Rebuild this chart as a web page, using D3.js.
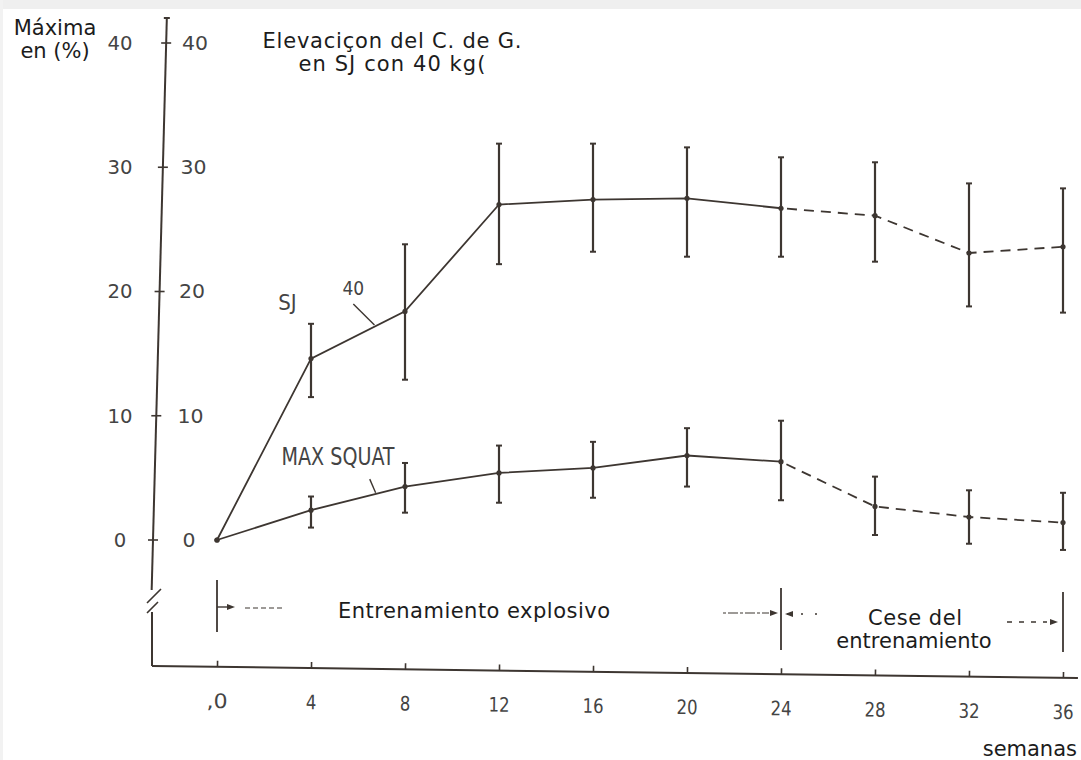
<!DOCTYPE html>
<html>
<head>
<meta charset="utf-8">
<script src="https://cdn.jsdelivr.net/npm/d3@7"></script>
<style>
  body { margin: 0; background: #ffffff; }
  svg { display: block; }
  .typed { font-family: "DejaVu Sans", Verdana, sans-serif; font-size: 21px; fill: #1c1c1c; }
  .hand { font-family: "DejaVu Sans Condensed", "Liberation Sans Narrow", "DejaVu Sans", sans-serif; font-stretch: condensed; fill: #444; }
</style>
</head>
<body>
<div id="chart"></div>
<script>
// weeks of the study
const weeks = [0, 4, 8, 12, 16, 20, 24, 28, 32, 36];

// SJ con 40 kg, elevation in % of baseline
const sjMean = [0, 14.6, 18.4, 27.0, 27.4, 27.5, 26.7, 26.1, 23.1, 23.6];
const sjHigh = [null, 17.4, 23.8, 31.9, 31.9, 31.6, 30.8, 30.4, 28.7, 28.3];
const sjLow  = [null, 11.5, 12.9, 22.2, 23.2, 22.8, 22.8, 22.4, 18.8, 18.3];

// max squat
const sqMean = [0, 2.4, 4.3, 5.4, 5.8, 6.8, 6.3, 2.7, 1.85, 1.4];
const sqHigh = [null, 3.5, 6.2, 7.6, 7.9, 9.0, 9.6, 5.1, 4.0, 3.8];
const sqLow  = [null, 1.0, 2.2, 3.0, 3.4, 4.3, 3.2, 0.4, -0.3, -0.8];

const yTicks = [0, 10, 20, 30, 40];
const xTicks = weeks;
const trainingEnd = 24;   // after this week: cese del entrenamiento
const phaseMarks = [0, 24, 36];

const W = 1081, H = 760;
const ink = "#3d3631";

let svg = d3.select("#chart").append("svg")
  .attr("width", W)
  .attr("height", H);

// scanned page border
svg.append("rect").attr("x", 0).attr("y", 0).attr("width", W).attr("height", 9).attr("fill", "#efefef");
svg.append("rect").attr("x", 0).attr("y", 0).attr("width", 3).attr("height", H).attr("fill", "#f2f2f2");

let x = d3.scaleLinear().domain([0, 36]).range([217, 1063]);
let y = d3.scaleLinear().domain([0, 40]).range([540, 43]);

// the hand drawn y axis leans a bit to the right at the top
function axisX(py) {
  return 153 + (540 - py) * 0.0265;
}

// ---- y axis ----
let yAxisG = svg.append("g");
yAxisG.append("path")
  .attr("d", d3.line()([[axisX(18), 18], [axisX(590), 590]]))
  .attr("stroke", ink).attr("stroke-width", 2).attr("fill", "none");
yAxisG.append("path")
  .attr("d", d3.line()([[axisX(18) - 3, 18], [axisX(18) + 3, 18]]))
  .attr("stroke", ink).attr("stroke-width", 2);
// break marks
yAxisG.append("path")
  .attr("d", "M147,603 L161,589 M147,613 L158,602")
  .attr("stroke", ink).attr("stroke-width", 1.6).attr("fill", "none");
yAxisG.append("path")
  .attr("d", d3.line()([[152, 612], [152, 666]]))
  .attr("stroke", ink).attr("stroke-width", 2).attr("fill", "none");

yAxisG.selectAll(".ytick")
  .data(yTicks)
  .join("path")
  .attr("class", "ytick")
  .attr("d", d => d3.line()([[axisX(y(d)) - 5, y(d)], [axisX(y(d)) + 5, y(d)]]))
  .attr("stroke", ink).attr("stroke-width", 1.6);

// labels on both sides of the axis
let yLeft = svg.append("g")
  .attr("class", "hand")
  .attr("transform", "translate(120,0)")
  .call(d3.axisLeft(y).tickValues(yTicks).tickSize(0).tickPadding(0));
yLeft.select(".domain").remove();
yLeft.selectAll("text")
  .attr("text-anchor", "middle")
  .attr("x", 0)
  .attr("fill", "#444")
  .attr("textLength", d => String(d).length * 12.5)
  .attr("lengthAdjust", "spacingAndGlyphs")
  .style("font-size", "20px");

let yRight = svg.append("g")
  .attr("class", "hand")
  .attr("transform", "translate(189,0)")
  .call(d3.axisRight(y).tickValues(yTicks).tickSize(0).tickPadding(0));
yRight.select(".domain").remove();
yRight.selectAll("text")
  .attr("text-anchor", "middle")
  .attr("x", d => d * 0.15)
  .attr("fill", "#444")
  .attr("textLength", d => String(d).length * 13)
  .attr("lengthAdjust", "spacingAndGlyphs")
  .style("font-size", "20px");

// ---- x axis, slightly tilted ----
let xAxisG = svg.append("g")
  .attr("transform", "translate(0,666) rotate(0.75,152,0)");
xAxisG.append("path")
  .attr("d", d3.line()([[152, 0], [1078, 0]]))
  .attr("stroke", ink).attr("stroke-width", 2).attr("fill", "none");
let xAx = xAxisG.append("g")
  .attr("class", "hand")
  .call(d3.axisBottom(x)
    .tickValues(xTicks)
    .tickSize(-6)
    .tickSizeOuter(0)
    .tickPadding(27)
    .tickFormat(d => d === 0 ? ",0" : d));
xAx.select(".domain").remove();
xAx.selectAll(".tick line").attr("stroke", ink).attr("stroke-width", 1.6);
xAx.selectAll("text")
  .attr("fill", "#444")
  .attr("textLength", d => (d === 0 ? 2 : String(d).length) * 10.5)
  .attr("lengthAdjust", "spacingAndGlyphs")
  .style("font-size", "20px");

svg.append("text")
  .attr("class", "typed")
  .attr("x", 1077)
  .attr("y", 756)
  .attr("text-anchor", "end")
  .text("semanas");

// ---- titles ----
svg.append("text").attr("class", "typed").attr("x", 55).attr("y", 35)
  .attr("text-anchor", "middle").text("Máxima");
svg.append("text").attr("class", "typed").attr("x", 55).attr("y", 58)
  .attr("text-anchor", "middle").text("en (%)");
svg.append("text").attr("class", "typed").attr("x", 392).attr("y", 48)
  .attr("text-anchor", "middle")
  .attr("textLength", 259)
  .text("Elevaciçon del C. de G.");
svg.append("text").attr("class", "typed").attr("x", 392).attr("y", 71)
  .attr("text-anchor", "middle")
  .attr("textLength", 187)
  .text("en SJ con 40 kg(");

// ---- series ----
function drawSeries(mean, high, low) {
  let pts = weeks.map((w, i) => ({w: w, v: mean[i], hi: high[i], lo: low[i]}));
  let line = d3.line().x(d => x(d.w)).y(d => y(d.v));

  svg.append("path")
    .attr("d", line(pts.filter(d => d.w <= trainingEnd)))
    .attr("stroke", ink).attr("stroke-width", 1.8).attr("fill", "none");

  // dashed after training stops, starting with a gap
  svg.append("path")
    .attr("d", line(pts.filter(d => d.w >= trainingEnd)))
    .attr("stroke", ink).attr("stroke-width", 1.8).attr("fill", "none")
    .attr("stroke-dasharray", "10,7")
    .attr("stroke-dashoffset", 11);

  let bars = pts.filter(d => d.hi != null);
  svg.selectAll(null).data(bars).join("line")
    .attr("x1", d => x(d.w)).attr("x2", d => x(d.w))
    .attr("y1", d => y(d.hi)).attr("y2", d => y(d.lo))
    .attr("stroke", ink).attr("stroke-width", 2.2);
  svg.selectAll(null).data(bars).join("line")
    .attr("x1", d => x(d.w) - 3).attr("x2", d => x(d.w) + 3)
    .attr("y1", d => y(d.hi)).attr("y2", d => y(d.hi))
    .attr("stroke", ink).attr("stroke-width", 2);
  svg.selectAll(null).data(bars).join("line")
    .attr("x1", d => x(d.w) - 3).attr("x2", d => x(d.w) + 3)
    .attr("y1", d => y(d.lo)).attr("y2", d => y(d.lo))
    .attr("stroke", ink).attr("stroke-width", 2);

  svg.selectAll(null).data(pts).join("circle")
    .attr("cx", d => x(d.w)).attr("cy", d => y(d.v))
    .attr("r", 2.6).attr("fill", ink);
}

drawSeries(sjMean, sjHigh, sjLow);
drawSeries(sqMean, sqHigh, sqLow);

// series labels with leader lines
svg.append("text").attr("class", "hand")
  .attr("x", x(3)).attr("y", y(18.5))
  .attr("text-anchor", "middle")
  .style("font-size", "22px")
  .text("SJ");
svg.append("text").attr("class", "hand")
  .attr("x", x(5.8)).attr("y", y(19.7))
  .attr("text-anchor", "middle")
  .style("font-size", "19px")
  .text("40");
svg.append("line")
  .attr("x1", x(5.8)).attr("y1", y(19.0))
  .attr("x2", x(6.7)).attr("y2", y(17.3))
  .attr("stroke", ink).attr("stroke-width", 1.4);

svg.append("text").attr("class", "hand")
  .attr("x", x(5.15)).attr("y", y(6.0))
  .attr("text-anchor", "middle")
  .attr("textLength", 113)
  .attr("lengthAdjust", "spacingAndGlyphs")
  .style("font-size", "25px")
  .text("MAX SQUAT");
svg.append("line")
  .attr("x1", x(6.5)).attr("y1", y(4.9))
  .attr("x2", x(6.75)).attr("y2", y(3.8))
  .attr("stroke", ink).attr("stroke-width", 1.4);

// ---- phase markers below the break ----
let markY = {0: [580, 632], 24: [588, 650], 36: [592, 652]};
svg.selectAll(null).data(phaseMarks).join("line")
  .attr("x1", d => x(d)).attr("x2", d => x(d))
  .attr("y1", d => markY[d][0]).attr("y2", d => markY[d][1])
  .attr("stroke", ink).attr("stroke-width", 1.8);

function arrowHead(px, py, dir) {
  svg.append("path")
    .attr("d", `M${px},${py} L${px - dir * 8},${py - 3} L${px - dir * 8},${py + 3} Z`)
    .attr("fill", ink);
}

// start of explosive training
svg.append("line").attr("x1", x(0)).attr("x2", x(0) + 14).attr("y1", 607).attr("y2", 607)
  .attr("stroke", ink).attr("stroke-width", 1.4);
arrowHead(x(0) + 18, 607, 1);
svg.append("line").attr("x1", x(0) + 28).attr("x2", x(0) + 65).attr("y1", 608).attr("y2", 608)
  .attr("stroke", ink).attr("stroke-width", 1.2).attr("stroke-dasharray", "5,3");
svg.append("text").attr("class", "typed")
  .attr("x", 338).attr("y", 618)
  .attr("textLength", 272)
  .text("Entrenamiento explosivo");

// end of training at week 24
svg.append("line").attr("x1", x(24) - 58).attr("x2", x(24) - 12).attr("y1", 613).attr("y2", 613)
  .attr("stroke", ink).attr("stroke-width", 1.2).attr("stroke-dasharray", "3,2,10,2");
arrowHead(x(24) - 3, 613, 1);
arrowHead(x(24) + 4, 614, -1);
svg.append("line").attr("x1", x(24) + 6).attr("x2", x(24) + 46).attr("y1", 614).attr("y2", 614)
  .attr("stroke", ink).attr("stroke-width", 1.6).attr("stroke-dasharray", "2,12");
svg.append("text").attr("class", "typed")
  .attr("x", 915).attr("y", 625).attr("text-anchor", "middle")
  .attr("textLength", 94)
  .text("Cese del");
svg.append("text").attr("class", "typed")
  .attr("x", 914).attr("y", 648).attr("text-anchor", "middle")
  .text("entrenamiento");

// end of detraining at week 36
svg.append("line").attr("x1", x(36) - 56).attr("x2", x(36) - 16).attr("y1", 622).attr("y2", 622)
  .attr("stroke", ink).attr("stroke-width", 1.4).attr("stroke-dasharray", "5,7");
arrowHead(x(36) - 5, 622, 1);
</script>
</body>
</html>
